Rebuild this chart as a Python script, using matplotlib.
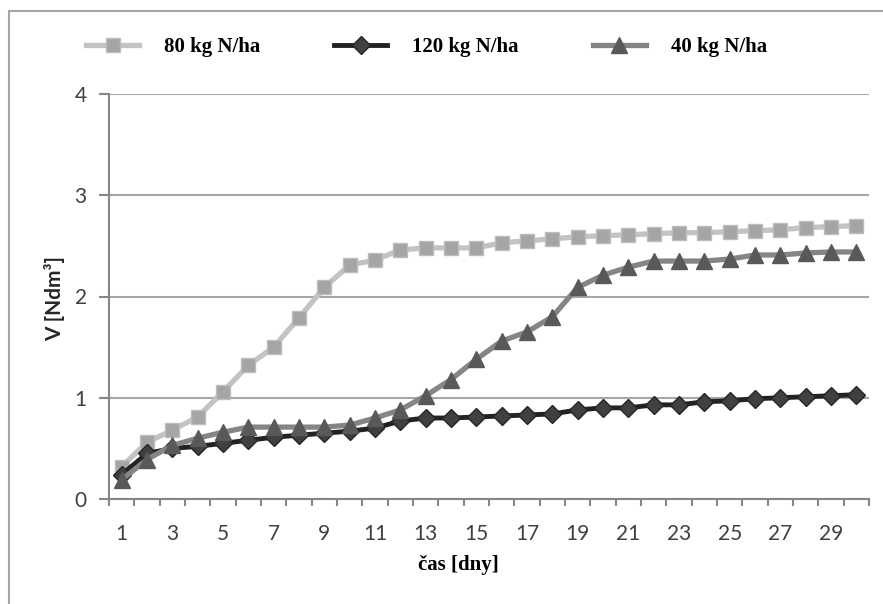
import numpy as np
import matplotlib
matplotlib.use("Agg")
import matplotlib.pyplot as plt
from matplotlib.patches import Rectangle
from matplotlib.font_manager import FontProperties

# data (V in Ndm3, per day)
days = np.arange(1, 31)
v80 = [0.32, 0.56, 0.68, 0.81, 1.06, 1.32, 1.50, 1.79, 2.09, 2.31,
       2.36, 2.46, 2.48, 2.48, 2.48, 2.53, 2.55, 2.57, 2.59, 2.60,
       2.61, 2.62, 2.63, 2.63, 2.64, 2.65, 2.66, 2.68, 2.69, 2.70]
v120 = [0.24, 0.45, 0.50, 0.52, 0.55, 0.58, 0.61, 0.63, 0.65, 0.67,
        0.70, 0.77, 0.80, 0.80, 0.81, 0.82, 0.83, 0.84, 0.88, 0.90,
        0.90, 0.93, 0.93, 0.96, 0.97, 0.99, 1.00, 1.01, 1.02, 1.03]
v40 = [0.19, 0.39, 0.53, 0.60, 0.66, 0.71, 0.71, 0.71, 0.71, 0.73,
       0.80, 0.88, 1.02, 1.18, 1.38, 1.56, 1.65, 1.80, 2.09, 2.21,
       2.29, 2.35, 2.35, 2.35, 2.37, 2.41, 2.41, 2.43, 2.44, 2.44]
labels = ['80 kg N/ha', '120 kg N/ha', '40 kg N/ha']
xtick_vals = list(range(1, 30, 2))
ytick_vals = [0, 1, 2, 3, 4]

W, H = 883, 604
fig = plt.figure(figsize=(W / 100, H / 100), dpi=100)
ax = fig.add_axes([109 / W, 1 - 499 / H, (869 - 109) / W, (499 - 94) / H])

gray = '#868686'
l80, = ax.plot(days, v80, color='#c3c3c3', lw=3.8, marker='s', ms=10.5,
               mfc='#a5a5a5', mec='#bdbdbd', mew=1, zorder=3)
l120, = ax.plot(days, v120, color='#222222', lw=3.5, marker='D', ms=9.5,
                mfc='#404040', mec='#262626', mew=1, zorder=4)
l40, = ax.plot(days, v40, color='#858585', lw=3.8, marker='^', ms=12,
               mfc='#595959', mec='#595959', mew=1, zorder=5)

ax.set_xlim(0.5, 30.5)
ax.set_ylim(0, 4)
ax.set_yticks(ytick_vals)
ax.set_xticks(xtick_vals)
ax.set_xticks(np.arange(0.5, 31, 1), minor=True)

for s in ['top', 'right']:
    ax.spines[s].set_visible(False)
for s in ['left', 'bottom']:
    ax.spines[s].set_color(gray)
    ax.spines[s].set_linewidth(1.5)

ax.set_axisbelow(True)
ax.yaxis.grid(True, color='#a6a6a6', lw=1.5)

tickfont = 'Lato'
ax.tick_params(axis='y', length=7, width=1.5, color=gray, pad=9,
               labelsize=15, labelcolor='#404040')
ax.tick_params(axis='x', which='major', length=0, pad=18,
               labelsize=15, labelcolor='#404040')
ax.tick_params(axis='x', which='minor', length=5, width=1.5, color=gray)
for t in ax.get_xticklabels() + ax.get_yticklabels():
    t.set_family(tickfont)

fig.text(55 / W, 1 - 299 / H, 'V [Ndm³]', rotation=90, ha='center', va='center',
         family='Lato', weight='bold', fontsize=15, color='#262626')
fig.text(458 / W, 1 - 565 / H, 'čas [dny]', ha='center', va='center',
         family='Liberation Serif', weight='bold', fontsize=15)

fig.legend([l80, l120, l40], labels, loc='center left',
           bbox_to_anchor=(86 / W, 1 - 47 / H), ncol=3, frameon=False,
           borderpad=0, borderaxespad=0, handlelength=2.55, handletextpad=1.2,
           columnspacing=3.55, numpoints=1,
           prop=FontProperties(family='Liberation Serif', weight='bold', size=15))

# outer chart border (runs off the right and bottom edges)
fig.patches.append(Rectangle((9 / W, -0.1), 1.2, 1.1 - 11 / H, transform=fig.transFigure,
                             fill=False, ec='#a6a6a6', lw=1.5))

fig.savefig('out.png', dpi=100)
